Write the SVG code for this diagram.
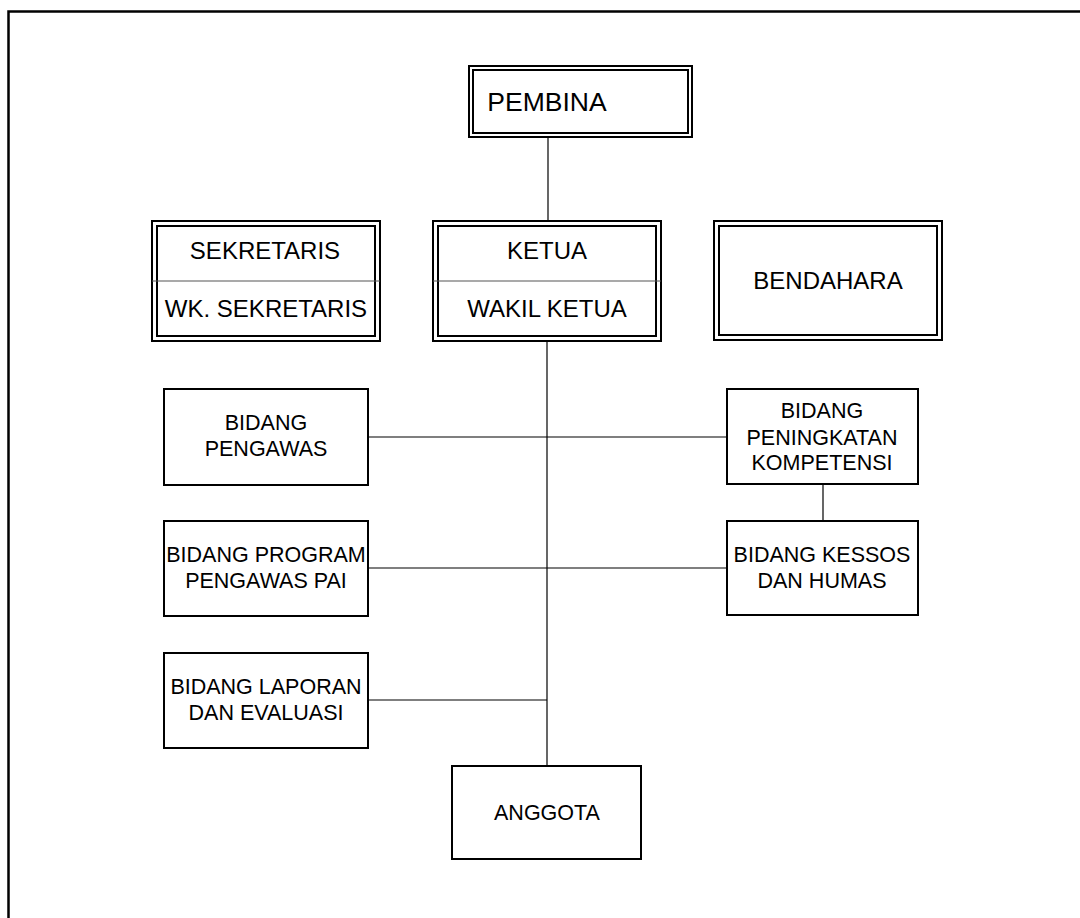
<svg xmlns="http://www.w3.org/2000/svg" width="1080" height="918" viewBox="0 0 1080 918">
<style>
.box{fill:#fff;stroke:#000;stroke-width:2}
.inner{fill:none;stroke:#000;stroke-width:2}
.div{stroke:#555;stroke-width:1.2}
.ln{stroke:#000;stroke-width:1.2;fill:none}
text{font-family:"Liberation Sans",Arial,sans-serif;fill:#000;text-anchor:middle}
.t1{font-size:26.5px}
.t2{font-size:24px}
.t3{font-size:21.5px}
</style>
<rect x="8.5" y="11.5" width="1100" height="950" fill="#fff" stroke="#000" stroke-width="2.5"/>
<g id="connectors">
<line class="ln" x1="548" y1="137" x2="548" y2="221"/>
<line class="ln" x1="547" y1="341" x2="547" y2="766"/>
<line class="ln" x1="368" y1="437" x2="727" y2="437"/>
<line class="ln" x1="368" y1="568" x2="727" y2="568"/>
<line class="ln" x1="368" y1="700" x2="547" y2="700"/>
<line class="ln" x1="823" y1="484" x2="823" y2="521"/>
</g>
<g id="pembina">
<rect class="box" x="469" y="66" width="223" height="71"/>
<rect class="inner" x="473" y="70" width="215" height="63"/>
<text class="t1" x="547" y="111">PEMBINA</text>
</g>
<g id="sekretaris">
<rect class="box" x="152" y="221" width="228" height="120"/>
<rect class="inner" x="157" y="226" width="218" height="110"/>
<line class="div" x1="152" y1="281" x2="380" y2="281"/>
<text class="t2" x="265" y="259">SEKRETARIS</text>
<text class="t2" x="266" y="317">WK. SEKRETARIS</text>
</g>
<g id="ketua">
<rect class="box" x="433" y="221" width="228" height="120"/>
<rect class="inner" x="438" y="226" width="218" height="110"/>
<line class="div" x1="433" y1="281" x2="661" y2="281"/>
<text class="t2" x="547" y="259">KETUA</text>
<text class="t2" x="547" y="317">WAKIL KETUA</text>
</g>
<g id="bendahara">
<rect class="box" x="714" y="221" width="228" height="119"/>
<rect class="inner" x="719" y="226" width="218" height="109"/>
<text class="t2" x="828" y="289">BENDAHARA</text>
</g>
<g id="bidang-pengawas">
<rect class="box" x="164" y="389" width="204" height="96"/>
<text class="t3" x="266" y="430">BIDANG</text>
<text class="t3" x="266" y="456">PENGAWAS</text>
</g>
<g id="bidang-peningkatan">
<rect class="box" x="727" y="389" width="191" height="95"/>
<text class="t3" x="822" y="418">BIDANG</text>
<text class="t3" x="822" y="445">PENINGKATAN</text>
<text class="t3" x="822" y="470">KOMPETENSI</text>
</g>
<g id="bidang-program">
<rect class="box" x="164" y="521" width="204" height="95"/>
<text class="t3" x="266" y="562">BIDANG PROGRAM</text>
<text class="t3" x="266" y="588">PENGAWAS PAI</text>
</g>
<g id="bidang-kessos">
<rect class="box" x="727" y="521" width="191" height="94"/>
<text class="t3" x="822" y="562">BIDANG KESSOS</text>
<text class="t3" x="822" y="588">DAN HUMAS</text>
</g>
<g id="bidang-laporan">
<rect class="box" x="164" y="653" width="204" height="95"/>
<text class="t3" x="266" y="694">BIDANG LAPORAN</text>
<text class="t3" x="266" y="720">DAN EVALUASI</text>
</g>
<g id="anggota">
<rect class="box" x="452" y="766" width="189" height="93"/>
<text class="t3" x="547" y="820">ANGGOTA</text>
</g>
</svg>
